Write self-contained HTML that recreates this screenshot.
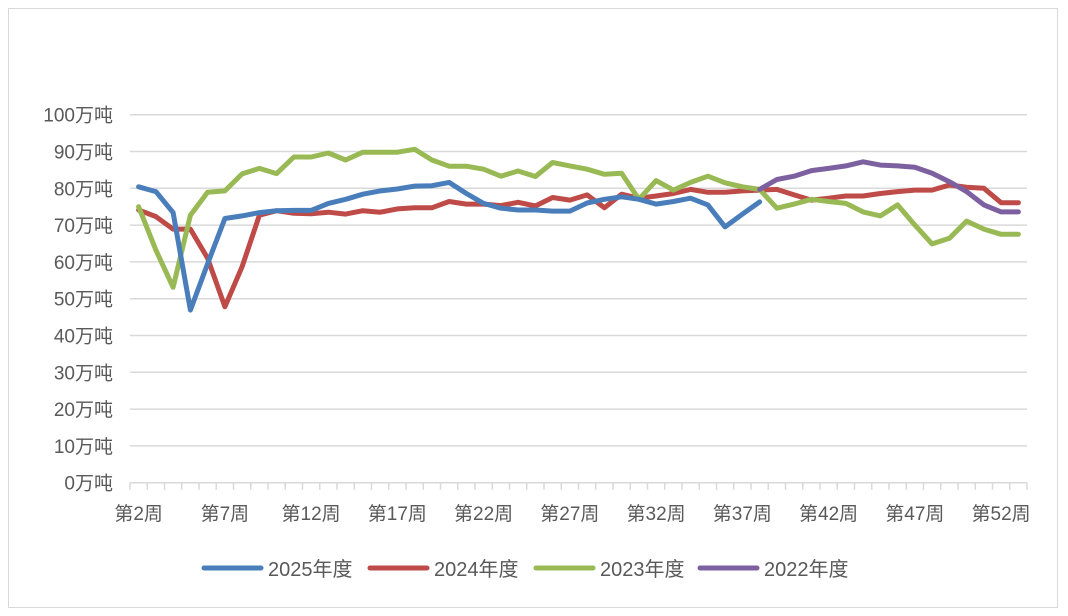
<!DOCTYPE html>
<html><head><meta charset="utf-8"><style>
body{margin:0;background:#fff;}
svg{display:block;font-family:"Liberation Sans","Noto Sans CJK SC",sans-serif;}
</style></head><body>
<svg id="chart" width="1068" height="616" viewBox="0 0 1068 616" xmlns="http://www.w3.org/2000/svg">
<rect x="8.5" y="8.5" width="1049" height="599" fill="#fff" stroke="#d9d9d9" stroke-width="1"/>
<g id="grid"></g><g id="axes"></g><g id="series"></g><g id="legend"></g>
</svg>
<script>
const weeks = [];
for (let w = 2; w <= 53; w++) weeks.push('第' + w + '周');
const yTicks = [0,10,20,30,40,50,60,70,80,90,100];
const yTickLabels = ['0万吨','10万吨','20万吨','30万吨','40万吨','50万吨','60万吨','70万吨','80万吨','90万吨','100万吨'];
const seriesNames = ['2025年度','2024年度','2023年度','2022年度'];
const seriesColors = ['#4a7ebb','#be4b48','#98b954','#7d60a0'];
const s2025 = [80.4,79.1,73.4,46.9,59.5,71.8,72.5,73.4,73.9,74,74,75.9,77,78.4,79.3,79.8,80.6,80.7,81.6,78.6,75.9,74.6,74.1,74.1,73.8,73.8,76,77,77.7,77,75.7,76.4,77.3,75.5,69.5,73,76.3];
const s2024 = [74.1,72.3,68.9,68.9,61,47.8,58.7,72.7,73.9,73.2,73.1,73.5,73,73.9,73.5,74.4,74.7,74.7,76.4,75.7,75.7,75.3,76.2,75.2,77.5,76.8,78.2,74.7,78.4,77.3,77.9,78.6,79.7,78.9,78.9,79.3,79.5,79.7,78.2,76.8,77.3,77.9,77.9,78.6,79.1,79.5,79.5,80.9,80.3,80,76.1,76.1];
const s2023 = [75,63.2,53.1,72.7,78.9,79.3,83.9,85.4,84,88.5,88.5,89.6,87.7,89.8,89.8,89.8,90.6,87.7,86,86,85.2,83.3,84.7,83.2,87,86.1,85.2,83.8,84.1,77,82.1,79.5,81.6,83.3,81.5,80.4,79.7,74.6,75.7,77,76.4,75.9,73.6,72.5,75.5,70,64.9,66.4,71.1,68.9,67.5,67.5];
const s2022Start = 36; // index of first week (第38周)
const s2022 = [79.7,82.4,83.3,84.8,85.4,86.1,87.2,86.3,86.1,85.7,84.1,81.8,79.1,75.5,73.6,73.6];

const NS='http://www.w3.org/2000/svg';
const L=130,R=1027,T=114.7,B=482.7,YMAX=100;
const step=(R-L)/weeks.length;
const xOf=i=>L+step*(i+0.5);
const yOf=v=>B-(v/YMAX)*(B-T);
function mk(tag,parent,attrs){const e=document.createElementNS(NS,tag);for(const k in attrs)e.setAttribute(k,attrs[k]);document.getElementById(parent).appendChild(e);return e;}

yTicks.forEach((v,i)=>{
  if(v>0){const g=mk('line','grid',{x1:L,x2:R,y1:yOf(v),y2:yOf(v),stroke:'#d9d9d9','stroke-width':1.5});
  
  }
  const t=mk('text','axes',{x:113,y:yOf(v)+7,'text-anchor':'end','font-size':19,fill:'#595959'});
  
  
  t.textContent=yTickLabels[i];
});
const ax=mk('line','axes',{x1:L,x2:R,y1:B,y2:B,stroke:'#d9d9d9','stroke-width':1.5});


for(let i=0;i<=weeks.length;i++){
  const tk=mk('line','axes',{x1:L+step*i,x2:L+step*i,y1:B,y2:B+7,stroke:'#d9d9d9','stroke-width':1.5});
  
  
}
weeks.forEach((w,i)=>{
  if(i%5!==0)return;
  const t=mk('text','axes',{x:xOf(i),y:520,'text-anchor':'middle','font-size':19,fill:'#595959'});
  
  
  t.textContent=w;
});
function drawSeries(vals,start,color,name){
  const pts=vals.map((v,i)=>xOf(start+i).toFixed(1)+','+yOf(v).toFixed(1)).join(' ');
  const p=mk('polyline','series',{points:pts,fill:'none',stroke:color,'stroke-width':5,'stroke-linejoin':'round','stroke-linecap':'round'});
  
  
}
drawSeries(s2024,0,seriesColors[1],'2024');
drawSeries(s2023,0,seriesColors[2],'2023');
drawSeries(s2022,s2022Start,seriesColors[3],'2022');
drawSeries(s2025,0,seriesColors[0],'2025');

const legX=[204,370,536,700];
seriesNames.forEach((n,i)=>{
  const ln=mk('line','legend',{x1:legX[i],x2:legX[i]+57,y1:568,y2:568,stroke:seriesColors[i],'stroke-width':5,'stroke-linecap':'round'});
  
  
  const t=mk('text','legend',{x:legX[i]+64,y:576,'font-size':20,fill:'#595959'});
  
  
  t.textContent=n;
});
</script>
</body></html>
